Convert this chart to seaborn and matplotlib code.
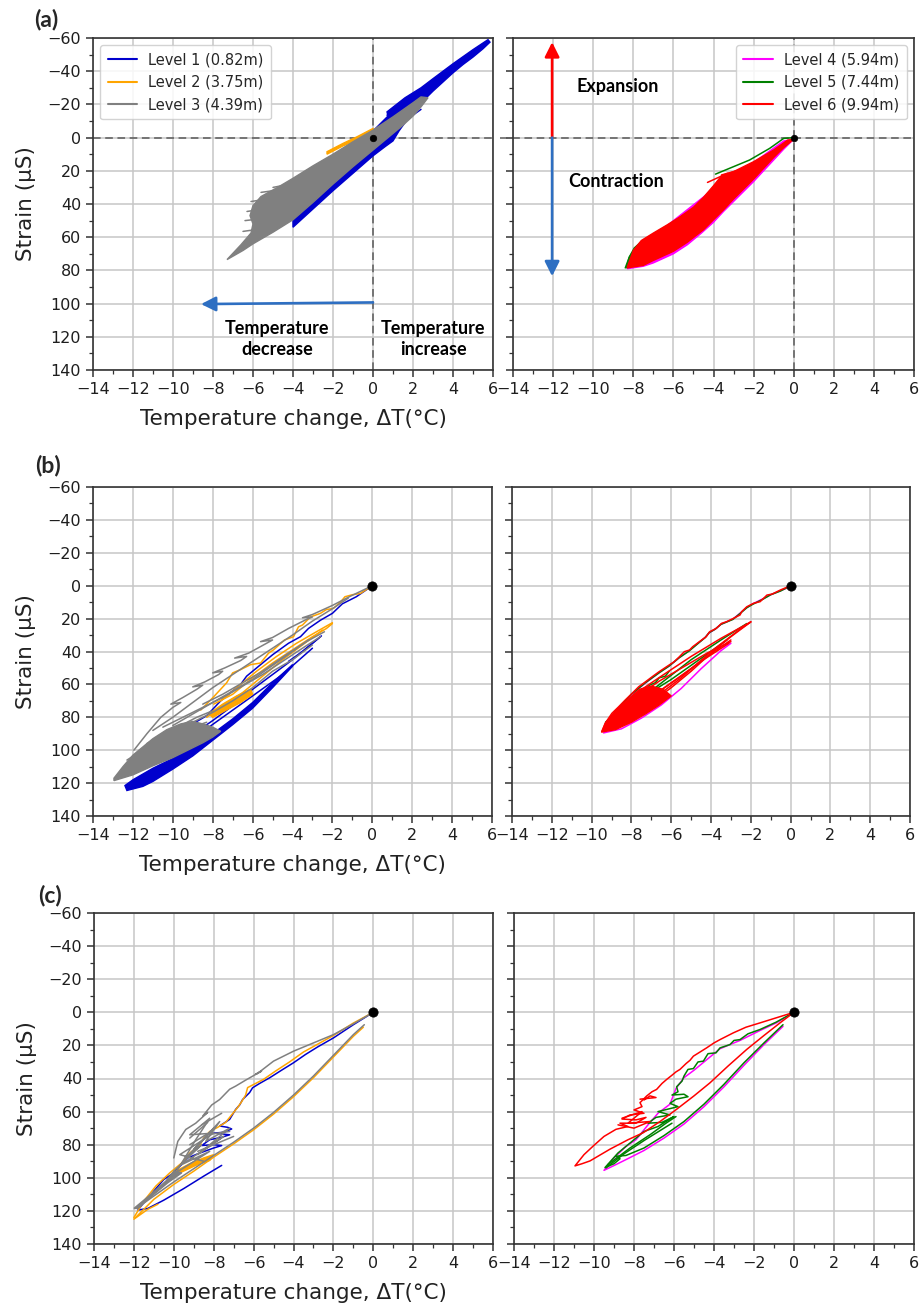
import matplotlib
matplotlib.use("Agg")
import matplotlib.pyplot as plt
from matplotlib.lines import Line2D
from matplotlib.ticker import MultipleLocator
import pandas as pd
import seaborn as sns

# ------------------------------------------------------------------
# Gauge levels
# ------------------------------------------------------------------
LEVEL_NAMES = ["Level 1 (0.82m)", "Level 2 (3.75m)", "Level 3 (4.39m)",
               "Level 4 (5.94m)", "Level 5 (7.44m)", "Level 6 (9.94m)"]
LEVEL_COLORS = ["mediumblue", "orange", "gray", "magenta", "green", "red"]

X_TICKS = list(range(-14, 7, 2))
Y_TICKS = list(range(-60, 141, 20))
PANEL_TAGS = ["(a)", "(b)", "(c)"]
ORIGIN_X = [0.0]
ORIGIN_Y = [0.0]

# ------------------------------------------------------------------
# (a) strain vs temperature change -- dense cycles are stored as
#     envelope loops (bands), sparse strokes as polylines (traces)
# ------------------------------------------------------------------
A_L1_BANDS = [[(-4.0, 54.0), (-3.0, 43.0), (-2.0, 32.0), (-1.0, 21.5), (0.0, 11.0),
               (0.6, 5.5), (1.0, 2.0), (1.3, -4.0), (1.6, -9.0), (2.0, -16.0),
               (2.5, -22.0), (3.0, -28.0), (3.5, -33.5), (4.0, -39.0), (4.5, -44.0),
               (5.0, -48.5), (5.5, -53.5), (5.85, -57.5), (5.75, -59.0), (5.0, -53.0),
               (4.0, -44.5), (3.0, -35.5), (2.4, -30.0), (1.6, -24.0), (0.7, -15.5),
               (0.75, -13.0), (0.0, -4.0), (-2.0, 14.0), (-4.0, 50.0)]]
A_L1_TRACES = [[(0.7, -13.5), (1.5, -19.0), (2.3, -24.5)],
               [(1.2, -6.0), (1.7, -11.0), (2.4, -17.0)]]
A_L2_BANDS = [[(-2.3, 10.0), (-1.5, 5.0), (-0.8, 1.5), (0.1, -3.5), (0.0, -5.5),
               (-0.8, -0.5), (-1.5, 3.5), (-2.3, 8.5)]]
A_L2_TRACES = [[(-3.3, 20.5), (-2.6, 16.5), (-1.8, 12.0), (-1.0, 7.5), (-0.4, 4.0),
                (0.0, 1.5), (-0.6, 6.0), (-1.5, 11.5), (-2.4, 16.5), (-3.3, 20.5)]]
A_L3_BANDS = [[(-7.3, 73.5), (-6.5, 68.0), (-6.0, 64.0), (-5.0, 57.0), (-4.0, 49.5),
               (-3.0, 39.0), (-2.0, 28.0), (-1.0, 17.5), (0.0, 7.5), (1.0, -2.5),
               (1.5, -7.5), (2.0, -13.0), (2.4, -18.5), (2.75, -24.0), (2.4, -24.5),
               (2.0, -21.0), (1.0, -12.5), (0.0, -4.5), (-1.0, 2.5), (-2.0, 10.0),
               (-3.0, 17.0), (-4.0, 24.5), (-4.7, 29.5), (-5.6, 35.5), (-6.0, 41.0),
               (-6.15, 47.0), (-6.0, 52.0), (-6.1, 57.5), (-6.6, 64.5), (-7.3, 73.5)]]
A_L3_TRACES = [[(-6.3, 44.5), (-5.2, 42.5)], [(-6.4, 50.0), (-5.3, 48.5)],
               [(-6.1, 38.5), (-5.0, 36.5)], [(-5.6, 33.0), (-4.7, 31.5)],
               [(-6.5, 56.5), (-5.6, 55.0)], [(-5.0, 30.0), (-3.5, 26.5)]]

A_L4_BANDS = [[(-8.3, 79.0), (-7.5, 77.5), (-7.0, 75.5), (-6.0, 70.0), (-5.3, 64.5),
               (-4.6, 57.5), (-4.0, 51.0), (-3.5, 44.5), (-3.0, 38.5), (-2.5, 32.5),
               (-2.0, 26.5), (-1.5, 20.0), (-1.0, 13.5), (-0.5, 7.0), (0.0, 1.0),
               (-0.5, 2.0), (-2.0, 15.0), (-4.0, 31.0), (-6.0, 50.0), (-8.0, 70.0)]]
A_L4_TRACES = []
A_L5_BANDS = [[(-8.35, 78.5), (-7.0, 72.0), (-6.0, 65.0), (-5.0, 56.0), (-6.0, 52.5),
               (-6.9, 58.0), (-7.5, 62.0), (-7.9, 66.5), (-8.2, 72.0)]]
A_L5_TRACES = [[(-8.4, 78.5), (-8.2, 72.0), (-7.95, 66.5), (-7.5, 61.7), (-7.0, 58.2),
                (-6.3, 53.0), (-5.7, 48.5), (-5.1, 44.0), (-4.6, 39.0)],
               [(-3.9, 22.0), (-3.3, 19.0), (-2.2, 13.5), (-1.2, 6.5), (-0.5, 0.5), (0.0, 0.0)]]
A_L6_BANDS = [[(-8.3, 78.5), (-7.5, 77.0), (-7.0, 74.0), (-6.0, 68.5), (-5.3, 63.0),
               (-4.5, 55.5), (-4.0, 49.5), (-3.5, 43.5), (-3.0, 37.0), (-2.5, 31.0),
               (-2.0, 25.0), (-1.5, 18.5), (-1.0, 12.0), (-0.5, 6.0), (0.0, 1.0),
               (-0.3, 1.5), (-1.0, 7.5), (-2.0, 14.5), (-3.0, 20.5), (-3.6, 23.0),
               (-4.0, 29.0), (-4.5, 36.0), (-5.0, 42.0), (-5.7, 48.0), (-6.3, 52.5),
               (-7.0, 57.5), (-7.6, 62.0), (-8.0, 68.0), (-8.3, 78.0)]]
A_L6_TRACES = [[(-3.0, 24.0), (-1.9, 22.5), (-2.1, 25.0), (-3.3, 30.0)],
               [(-3.6, 22.5), (-2.4, 18.5), (-1.7, 17.5)], [(-4.3, 27.0), (-3.3, 21.5)]]

# ------------------------------------------------------------------
# (b)
# ------------------------------------------------------------------
B_L1_BANDS = [[(-12.3, 124.5), (-11.5, 122.0), (-11.0, 119.0), (-10.0, 111.5), (-9.0, 103.5),
               (-8.0, 94.0), (-7.0, 84.5), (-6.0, 74.5), (-5.0, 62.0), (-4.0, 49.0),
               (-4.0, 48.0), (-5.0, 59.0), (-6.0, 71.0), (-7.0, 81.0), (-8.0, 90.0),
               (-9.0, 98.5), (-10.0, 105.0), (-11.0, 111.0), (-12.0, 118.0), (-12.4, 121.5)]]
B_L1_TRACES = [[(0.0, 0.0), (-0.8, 6.7), (-1.5, 11.0), (-2.0, 16.8), (-2.6, 21.0), (-3.2, 26.0),
                (-3.6, 31.0), (-4.2, 35.0), (-5.0, 42.0), (-5.6, 48.0), (-6.3, 55.0),
                (-6.6, 60.0), (-7.6, 70.0), (-8.3, 79.0), (-9.0, 84.0), (-9.8, 88.0)],
               [(-2.6, 31.0), (-3.2, 37.0), (-4.0, 45.0), (-5.0, 54.0), (-6.0, 63.0),
                (-7.0, 73.0), (-8.0, 82.0), (-8.6, 87.0)],
               [(-2.55, 30.5), (-3.5, 40.0), (-4.2, 46.0)],
               [(-3.0, 38.0), (-4.5, 54.0), (-6.0, 67.0), (-7.5, 80.0), (-9.0, 93.0)]]
B_L2_BANDS = [[(-8.2, 78.0), (-7.5, 72.0), (-6.8, 67.0), (-6.1, 63.0), (-6.0, 66.0),
               (-6.6, 71.0), (-7.3, 75.5), (-8.0, 80.0)]]
B_L2_TRACES = [[(0.0, 0.0), (-0.6, 4.7), (-1.0, 5.5), (-1.37, 6.7), (-1.6, 10.0), (-1.95, 13.8),
                (-2.3, 14.5), (-2.6, 16.8), (-3.1, 19.0), (-3.5, 23.9), (-3.7, 25.0), (-3.95, 31.0),
                (-4.4, 33.0), (-4.95, 39.0), (-5.2, 41.0), (-5.6, 47.0), (-6.1, 48.0), (-6.6, 51.0),
                (-7.0, 53.0), (-7.3, 59.0), (-7.95, 67.5), (-8.6, 75.6)],
               [(-2.0, 23.0), (-2.3, 26.0), (-3.0, 31.0), (-4.0, 39.0), (-5.0, 47.0),
                (-6.0, 56.0), (-7.0, 66.0), (-7.95, 72.0)],
               [(-2.0, 22.5), (-2.8, 28.0), (-3.8, 35.0), (-4.8, 43.0), (-5.8, 52.0),
                (-6.8, 62.0), (-7.6, 70.0)],
               [(-2.5, 27.0), (-3.5, 36.0), (-4.5, 45.0), (-5.5, 55.0), (-6.5, 65.0),
                (-7.5, 73.0), (-8.3, 80.0)]]
B_L3_BANDS = [[(-12.95, 118.5), (-12.0, 115.0), (-11.0, 109.5), (-10.0, 104.5), (-9.0, 98.5),
               (-8.5, 95.5), (-8.0, 92.0), (-7.6, 88.5), (-8.0, 86.0), (-8.5, 84.0),
               (-9.0, 82.5), (-9.6, 84.0), (-10.3, 87.5), (-11.0, 93.0), (-11.5, 98.0),
               (-12.0, 103.0), (-12.5, 110.0), (-12.95, 117.0)]]
B_L3_TRACES = [[(0.0, 0.0), (-1.15, 6.7), (-2.0, 12.0), (-3.0, 17.5), (-3.5, 19.5), (-3.0, 19.0),
                (-3.3, 20.5), (-4.2, 26.0), (-5.0, 31.5), (-5.6, 34.0), (-5.0, 33.0), (-5.3, 35.0),
                (-6.2, 41.0), (-6.9, 44.0), (-6.3, 43.0), (-6.6, 45.5), (-7.4, 50.0), (-8.0, 53.0),
                (-7.5, 52.0), (-7.7, 54.0), (-8.4, 58.5), (-9.0, 61.5), (-8.5, 60.5), (-8.8, 63.0),
                (-9.5, 68.0), (-10.1, 72.0), (-9.6, 71.0), (-10.0, 74.0), (-10.6, 80.0),
                (-11.3, 90.0), (-11.95, 100.0)],
               [(-1.2, 7.5), (-2.0, 14.0), (-3.0, 21.5), (-4.0, 30.0), (-5.0, 38.0), (-6.0, 46.0),
                (-7.0, 54.0), (-8.0, 62.0), (-9.0, 71.0), (-10.0, 80.0), (-11.0, 88.0)],
               [(-2.6, 31.0), (-3.5, 38.0), (-4.5, 46.0), (-5.5, 54.0), (-6.5, 61.0),
                (-7.5, 68.0), (-8.5, 74.0), (-9.5, 80.0), (-10.5, 86.0)],
               [(-3.2, 33.0), (-4.0, 40.0), (-5.0, 48.5), (-6.0, 57.0), (-7.0, 64.0),
                (-8.0, 71.0), (-9.0, 78.0), (-10.0, 85.0)],
               [(-2.4, 28.0), (-3.3, 34.0), (-4.2, 41.0), (-5.5, 52.0), (-6.5, 59.0),
                (-7.5, 66.0), (-8.5, 72.0)],
               [(-3.0, 36.0), (-4.0, 45.0), (-5.0, 52.0), (-6.0, 62.0), (-7.0, 70.0),
                (-8.0, 77.0), (-9.0, 83.0)],
               [(-11.3, 96.0), (-10.4, 90.0), (-9.6, 85.0), (-8.8, 80.0), (-8.0, 76.0)],
               [(-12.3, 106.0), (-11.5, 100.0), (-10.5, 93.0), (-9.5, 88.0), (-8.3, 83.0)]]

B_L4_BANDS = []
B_L4_TRACES = [[(0.0, 0.5), (-0.5, 3.0), (-1.0, 5.5), (-1.4, 8.0), (-1.9, 11.0), (-2.2, 13.3),
                (-2.5, 16.3), (-2.9, 20.3), (-3.5, 23.5), (-3.8, 26.5), (-4.1, 28.8),
                (-4.3, 31.5), (-4.6, 34.5), (-5.1, 39.5), (-5.6, 43.8), (-6.1, 48.8),
                (-6.6, 52.8), (-7.3, 59.2), (-8.0, 66.2), (-8.6, 74.2), (-9.3, 84.2)],
               [(-9.4, 89.5), (-8.5, 87.0), (-7.5, 80.5), (-6.5, 72.5), (-5.5, 62.5),
                (-4.5, 50.5), (-3.5, 39.5), (-3.0, 35.0)]]
B_L5_BANDS = []
B_L5_TRACES = [[(0.0, 0.0), (-0.5, 3.2), (-1.0, 5.5), (-1.4, 8.3), (-1.9, 11.3), (-2.2, 13.4),
                (-2.5, 16.5), (-2.9, 20.5), (-3.5, 23.5), (-3.8, 26.5), (-4.1, 28.6),
                (-4.3, 31.6), (-4.6, 34.6), (-5.1, 39.7), (-5.6, 43.8), (-6.1, 48.8),
                (-6.6, 52.9), (-7.3, 59.0), (-8.0, 66.0), (-8.6, 74.0), (-9.3, 84.0)],
               [(-9.3, 83.0), (-9.0, 80.0), (-8.9, 78.0), (-8.6, 76.5), (-8.5, 74.0), (-8.2, 72.5),
                (-8.0, 69.5), (-7.7, 68.0), (-7.6, 65.0), (-7.3, 63.5), (-7.1, 60.5),
                (-6.8, 59.0), (-6.6, 56.0), (-6.3, 55.0), (-6.1, 52.0)],
               [(-3.2, 33.0), (-4.6, 45.0), (-6.0, 57.0), (-7.4, 67.5)],
               [(-2.2, 23.0), (-3.5, 33.0), (-5.0, 45.0), (-6.8, 62.0)]]
B_L6_BANDS = [[(-9.5, 89.0), (-8.8, 87.5), (-8.0, 83.0), (-7.3, 78.0), (-6.6, 72.5),
               (-6.0, 67.0), (-6.4, 63.0), (-7.0, 61.0), (-7.6, 63.0), (-8.2, 69.5),
               (-8.8, 76.0), (-9.3, 83.5)]]
B_L6_TRACES = [[(0.0, 0.0), (-0.51, 2.6), (-0.93, 5.1), (-1.19, 5.7), (-1.36, 7.7), (-1.53, 9.7),
                (-1.86, 10.7), (-2.2, 12.8), (-2.46, 15.8), (-2.54, 17.8), (-2.88, 19.9),
                (-3.22, 21.9), (-3.47, 22.9), (-3.73, 25.9), (-4.07, 28.0), (-4.24, 31.0),
                (-4.58, 34.0), (-4.92, 37.1), (-5.08, 39.1), (-5.34, 40.1), (-5.59, 43.2),
                (-5.85, 46.2), (-6.1, 48.2), (-6.36, 50.3), (-6.61, 52.3), (-6.95, 55.3),
                (-7.29, 58.4), (-7.63, 61.4), (-7.97, 65.5), (-8.31, 69.5), (-8.64, 73.6),
                (-8.98, 77.6), (-9.32, 83.7), (-9.49, 88.8)],
               [(-2.0, 22.0), (-3.0, 31.0), (-4.0, 41.0), (-5.0, 52.0), (-6.0, 62.0),
                (-7.0, 71.0), (-8.0, 79.0), (-9.0, 86.0)],
               [(-2.0, 22.0), (-3.5, 32.0), (-5.0, 43.0), (-6.5, 55.0), (-7.6, 64.0)],
               [(-3.0, 33.0), (-4.3, 44.0), (-5.5, 55.0), (-6.8, 66.0), (-8.0, 76.0)],
               [(-3.1, 35.0), (-4.5, 46.0), (-6.0, 59.0), (-7.4, 71.0)],
               [(-2.0, 22.0), (-2.6, 27.0), (-4.0, 40.0), (-5.5, 56.0), (-6.8, 68.0)],
               [(-3.0, 34.0), (-4.2, 41.0), (-5.4, 49.5), (-6.6, 58.0), (-7.8, 68.0)]]

# ------------------------------------------------------------------
# (c)
# ------------------------------------------------------------------
C_L1_BANDS = []
C_L1_TRACES = [[(0.0, 0.0), (-1.0, 7.5), (-2.0, 15.5), (-2.8, 21.0), (-3.4, 25.5), (-4.0, 30.5),
                (-4.6, 35.0), (-5.2, 39.6), (-5.7, 43.0), (-6.05, 45.6), (-6.2, 48.5),
                (-6.55, 52.7), (-6.7, 56.0), (-6.9, 58.7), (-7.2, 64.7), (-7.7, 68.7),
                (-7.3, 69.5), (-7.1, 70.5), (-7.5, 72.5), (-8.0, 73.0), (-7.2, 74.0),
                (-7.6, 75.5), (-8.2, 77.0), (-8.6, 80.5), (-8.0, 80.0), (-7.6, 80.5),
                (-8.0, 82.0), (-8.8, 85.5), (-9.3, 88.0), (-10.0, 97.0), (-10.5, 101.0),
                (-11.0, 108.0), (-11.5, 115.0), (-11.8, 119.5), (-11.3, 118.5),
                (-10.5, 113.5), (-9.5, 106.5), (-8.5, 99.0), (-7.6, 92.5)]]
C_L2_BANDS = [[(-9.9, 96.0), (-9.2, 91.5), (-8.5, 88.0), (-8.0, 86.0), (-8.2, 89.5),
               (-8.9, 92.5), (-9.6, 96.5)]]
C_L2_TRACES = [[(0.0, 0.0), (-1.0, 6.5), (-2.0, 14.0), (-2.9, 20.0), (-3.5, 24.0), (-4.2, 30.0),
                (-4.9, 35.5), (-5.5, 40.5), (-5.9, 43.0), (-6.3, 45.5), (-6.4, 50.0),
                (-6.6, 54.0), (-6.8, 57.5), (-7.1, 62.0), (-7.4, 66.5), (-7.8, 69.5),
                (-8.2, 72.0), (-8.5, 76.0), (-8.7, 80.5), (-9.2, 85.0), (-9.6, 91.0),
                (-10.2, 97.0), (-10.9, 105.0), (-11.5, 114.0), (-12.0, 124.0)],
               [(-0.5, 9.0), (-1.0, 14.5), (-2.0, 27.0), (-3.0, 39.5), (-4.0, 51.0),
                (-5.0, 61.5), (-6.0, 71.0), (-7.0, 79.5), (-8.0, 87.5), (-9.0, 96.0),
                (-10.0, 104.0), (-11.0, 113.0), (-12.0, 125.0), (-11.3, 119.0), (-10.8, 116.0)]]
C_L3_BANDS = [[(-12.0, 118.5), (-11.2, 110.5), (-10.4, 102.0), (-10.0, 96.0), (-9.6, 97.0),
               (-10.3, 103.0), (-11.0, 110.0), (-11.8, 118.5)]]
C_L3_TRACES = [[(0.0, 0.0), (-1.0, 7.0), (-2.0, 13.5), (-3.0, 18.5), (-4.0, 23.5), (-5.0, 29.5),
                (-5.7, 36.0), (-5.9, 37.5), (-5.6, 35.5), (-6.4, 41.0), (-6.9, 44.6),
                (-7.2, 46.5), (-7.7, 52.7), (-8.1, 56.0), (-8.55, 62.7), (-8.3, 60.5),
                (-8.9, 67.0), (-9.4, 70.8), (-9.8, 78.0), (-10.0, 88.0)],
               [(-0.45, 7.5), (-1.0, 13.5), (-2.0, 26.0), (-3.0, 38.5), (-4.0, 50.0),
                (-5.0, 60.5), (-6.0, 70.0), (-7.0, 78.5), (-8.0, 86.5), (-9.0, 94.5),
                (-10.0, 102.5), (-11.0, 111.0), (-11.7, 117.0)],
               [(-10.0, 96.0), (-8.6, 80.0), (-9.4, 88.0), (-8.0, 70.0), (-9.0, 83.0),
                (-7.7, 66.0), (-8.4, 78.0), (-7.2, 70.0), (-8.8, 86.0), (-7.5, 75.0),
                (-9.6, 92.0), (-8.2, 84.0), (-9.9, 97.0), (-8.9, 77.0), (-8.2, 64.0),
                (-9.2, 74.0), (-8.0, 73.0), (-9.7, 86.0), (-8.5, 90.0)],
               [(-7.2, 72.0), (-8.4, 74.0), (-9.2, 80.0)], [(-7.0, 75.0), (-8.8, 84.0)],
               [(-8.6, 68.0), (-7.6, 61.0)], [(-9.2, 76.0), (-8.3, 66.5)]]

C_L4_BANDS = []
C_L4_TRACES = [[(0.0, 0.0), (-0.9, 6.5), (-1.7, 11.0), (-2.7, 17.0), (-3.7, 22.0), (-4.5, 30.0),
                (-5.0, 35.0), (-5.5, 39.5), (-5.9, 46.0), (-6.2, 55.5), (-6.8, 61.0),
                (-7.3, 68.0), (-7.9, 77.0), (-8.4, 81.0), (-9.0, 88.0), (-9.5, 95.5),
                (-8.9, 92.0), (-8.4, 89.0), (-7.5, 83.5), (-6.5, 76.0), (-5.5, 67.5),
                (-4.5, 57.0), (-3.5, 45.0), (-2.5, 32.0), (-1.5, 19.5), (-0.55, 8.5)]]
C_L5_BANDS = []
C_L5_TRACES = [[(0.0, 0.0), (-0.9, 6.0), (-1.7, 10.4), (-2.3, 13.0), (-2.7, 16.5), (-3.0, 17.0),
                (-3.2, 19.5), (-3.7, 21.5), (-3.9, 24.5), (-4.3, 25.0), (-4.53, 29.5),
                (-4.8, 30.0), (-5.03, 34.0), (-5.3, 34.5), (-5.5, 38.5), (-5.6, 41.6),
                (-5.87, 45.0), (-5.8, 48.0), (-6.1, 50.0), (-5.5, 49.5), (-5.3, 51.0),
                (-5.9, 52.5), (-6.2, 55.0), (-5.8, 57.0), (-6.3, 58.5), (-6.8, 60.0),
                (-6.2, 62.0), (-6.9, 63.5), (-7.3, 67.0), (-6.6, 66.5), (-6.0, 63.0),
                (-6.8, 69.0), (-7.5, 72.0), (-7.9, 76.0), (-8.3, 80.0), (-8.8, 85.0),
                (-9.45, 93.8), (-9.0, 91.5), (-8.7, 88.5), (-8.9, 87.0), (-8.4, 86.5),
                (-7.5, 82.0), (-6.5, 74.5), (-5.5, 66.0), (-4.5, 55.5), (-3.5, 43.5),
                (-2.5, 30.5), (-1.5, 18.5), (-0.55, 7.5)],
               [(-9.3, 92.0), (-8.2, 82.0), (-7.2, 74.0), (-6.4, 67.0), (-5.9, 63.0)],
               [(-9.4, 94.0), (-8.5, 85.5), (-7.5, 77.5), (-6.5, 70.0), (-6.1, 67.0)]]
C_L6_BANDS = []
C_L6_TRACES = [[(0.0, 0.0), (-0.8, 3.0), (-1.7, 6.4), (-2.4, 9.0), (-3.03, 12.4), (-3.7, 16.5),
                (-4.0, 18.5), (-4.37, 21.5), (-4.7, 24.0), (-5.03, 26.5), (-5.2, 29.0),
                (-5.4, 31.0), (-5.7, 34.5), (-5.9, 36.0), (-6.1, 38.0), (-6.37, 40.6),
                (-6.6, 43.0), (-6.87, 46.6), (-7.1, 48.0), (-7.37, 50.6), (-7.7, 54.6),
                (-7.6, 57.0), (-8.0, 59.0), (-7.5, 61.0), (-8.2, 62.0), (-8.6, 64.5),
                (-7.9, 65.0), (-7.4, 63.5), (-7.9, 67.0), (-8.7, 67.0), (-8.3, 69.0),
                (-8.9, 70.7), (-9.5, 75.0), (-10.03, 80.7), (-10.5, 86.0), (-10.95, 92.8),
                (-10.6, 91.5), (-10.2, 89.8), (-9.2, 82.7), (-8.3, 77.0), (-7.53, 72.7),
                (-6.7, 66.0), (-5.87, 58.6), (-5.0, 50.5), (-4.2, 42.6), (-3.3, 32.5),
                (-2.37, 22.5), (-1.5, 14.0), (-0.7, 6.4), (0.0, 0.0)],
               [(-7.7, 52.5), (-6.9, 51.5), (-7.2, 50.5), (-7.5, 53.0)],
               [(-8.6, 64.0), (-7.6, 60.0), (-8.3, 67.0), (-7.2, 66.0), (-8.0, 70.0), (-8.8, 68.0)]]

PANELS = [
    ([(A_L1_BANDS, A_L1_TRACES), (A_L2_BANDS, A_L2_TRACES), (A_L3_BANDS, A_L3_TRACES)],
     [(A_L4_BANDS, A_L4_TRACES), (A_L5_BANDS, A_L5_TRACES), (A_L6_BANDS, A_L6_TRACES)]),
    ([(B_L1_BANDS, B_L1_TRACES), (B_L2_BANDS, B_L2_TRACES), (B_L3_BANDS, B_L3_TRACES)],
     [(B_L4_BANDS, B_L4_TRACES), (B_L5_BANDS, B_L5_TRACES), (B_L6_BANDS, B_L6_TRACES)]),
    ([(C_L1_BANDS, C_L1_TRACES), (C_L2_BANDS, C_L2_TRACES), (C_L3_BANDS, C_L3_TRACES)],
     [(C_L4_BANDS, C_L4_TRACES), (C_L5_BANDS, C_L5_TRACES), (C_L6_BANDS, C_L6_TRACES)]),
]

# ------------------------------------------------------------------
# Styling
# ------------------------------------------------------------------
sns.set_theme(style="ticks")
plt.rcParams["font.family"] = ["DejaVu Sans"]
plt.rcParams.update({
    "axes.edgecolor": "#333333",
    "axes.linewidth": 1.2,
    "xtick.color": "#333333",
    "ytick.color": "#333333",
    "xtick.labelcolor": "#1e1e1e",
    "ytick.labelcolor": "#1e1e1e",
})

ARROW_BLUE = "#2e6fc2"
ARROW_RED = "#ff0000"
NOTE_FONT = ["Lato", "DejaVu Sans"]

W, H = 921, 1305
ROWS_Y = [(38, 370), (487, 816), (913, 1244)]
LEFT_X = [(93, 493), (93, 492), (94, 493)]
RIGHT_X = [(513, 914), (512, 910), (514, 914)]
TAG_XY = [(46, 20), (48, 465), (50, 895)]


def rect(x0, x1, y0, y1):
    return [x0 / W, 1 - y1 / H, (x1 - x0) / W, (y1 - y0) / H]


def traces_frame(paths):
    rows = []
    for seg, path in enumerate(paths):
        for x, y in path:
            rows.append((seg, x, y))
    return pd.DataFrame(rows, columns=["seg", "dT", "strain"])


def draw_level(ax, bands, traces, color, z):
    for band in bands:
        xs, ys = zip(*band)
        ax.fill(xs, ys, facecolor=color, edgecolor=color, lw=1.0, zorder=z)
    if traces:
        sns.lineplot(data=traces_frame(traces), x="dT", y="strain", units="seg",
                     estimator=None, sort=False, color=color, lw=1.1, ax=ax,
                     legend=False, zorder=z)


def style_axes(ax, show_y):
    ax.set_xlim(-14, 6)
    ax.set_ylim(140, -60)
    ax.set_xticks(X_TICKS)
    ax.set_yticks(Y_TICKS)
    ax.xaxis.set_minor_locator(MultipleLocator(1))
    ax.yaxis.set_minor_locator(MultipleLocator(10))
    ax.tick_params(which="major", direction="out", length=5, width=1.1, labelsize=11.5)
    ax.tick_params(which="minor", direction="out", length=3, width=0.9)
    ax.grid(True, which="major", color="#c6c6c6", lw=1.1)
    ax.set_axisbelow(True)
    for sp in ax.spines.values():
        sp.set_visible(True)
    ax.set_xlabel("")
    ax.set_ylabel("")
    if show_y:
        ax.set_ylabel("Strain (µS)", fontsize=15.5, labelpad=8, color="#222222")
        ax.set_xlabel("Temperature change, ΔT(°C)", fontsize=15.5, labelpad=9,
                      color="#222222")
    else:
        ax.tick_params(axis="y", labelleft=False)


fig = plt.figure(figsize=(W / 100, H / 100), dpi=100)

for r, (left_levels, right_levels) in enumerate(PANELS):
    y0, y1 = ROWS_Y[r]
    ax_l = fig.add_axes(rect(*LEFT_X[r], y0, y1))
    ax_r = fig.add_axes(rect(*RIGHT_X[r], y0, y1))

    for i, (bands, traces) in enumerate(left_levels):
        draw_level(ax_l, bands, traces, LEVEL_COLORS[i], 2 + i)
    for i, (bands, traces) in enumerate(right_levels):
        draw_level(ax_r, bands, traces, LEVEL_COLORS[3 + i], 2 + i)

    dot_size = 22 if r == 0 else 45
    for ax in (ax_l, ax_r):
        sns.scatterplot(x=ORIGIN_X, y=ORIGIN_Y, color="black", s=dot_size,
                        edgecolor="black", linewidth=0.5, zorder=10, ax=ax, legend=False)

    style_axes(ax_l, True)
    style_axes(ax_r, False)

    tx, ty = TAG_XY[r]
    fig.text(tx / W, 1 - ty / H, PANEL_TAGS[r], fontsize=16.5, fontweight="bold",
             family=NOTE_FONT, ha="center", va="center")

    if r == 0:
        dash = dict(color="#5a5a5a", lw=1.1, ls=(0, (5, 3)), zorder=1.5)
        ax_l.axvline(0, **dash)
        ax_l.axhline(0, **dash)
        ax_r.axvline(0, **dash)
        ax_r.plot([-14.65, 6], [0, 0], clip_on=False, **dash)

        arrow = dict(arrowstyle="-|>", lw=1.9, mutation_scale=22, shrinkA=0, shrinkB=0)
        ax_l.annotate("", xy=(-8.6, 100.3), xytext=(0, 99.3),
                      arrowprops=dict(color=ARROW_BLUE, **arrow), zorder=6)
        ax_l.annotate("", xy=(6.05, 99.3), xytext=(0, 99.3),
                      arrowprops=dict(color=ARROW_RED, **arrow), zorder=6)
        ax_r.annotate("", xy=(-12.05, -57.5), xytext=(-12.05, 0),
                      arrowprops=dict(color=ARROW_RED, **arrow), zorder=6)
        ax_r.annotate("", xy=(-12.05, 83.5), xytext=(-12.05, 0),
                      arrowprops=dict(color=ARROW_BLUE, **arrow), zorder=6)

        note = dict(fontsize=13, fontweight="bold", family=NOTE_FONT, ha="center",
                    va="center", linespacing=1.3, color="black")
        ax_l.text(-4.8, 121.5, "Temperature\ndecrease", **note)
        ax_l.text(3.0, 121.5, "Temperature\nincrease", **note)
        ax_r.text(-8.8, -30.5, "Expansion", **note)
        ax_r.text(-8.85, 26.7, "Contraction", **note)

        leg_kw = dict(fontsize=10.5, frameon=True, framealpha=0.85, edgecolor="#cccccc",
                      handlelength=2.0, borderpad=0.5, labelspacing=0.5)
        h_left = [Line2D([], [], color=LEVEL_COLORS[i], lw=1.5) for i in range(3)]
        h_right = [Line2D([], [], color=LEVEL_COLORS[3 + i], lw=1.5) for i in range(3)]
        ax_l.legend(h_left, LEVEL_NAMES[:3], loc="upper left", **leg_kw)
        ax_r.legend(h_right, LEVEL_NAMES[3:], loc="upper right", **leg_kw)

fig.savefig("out.png", dpi=100)
